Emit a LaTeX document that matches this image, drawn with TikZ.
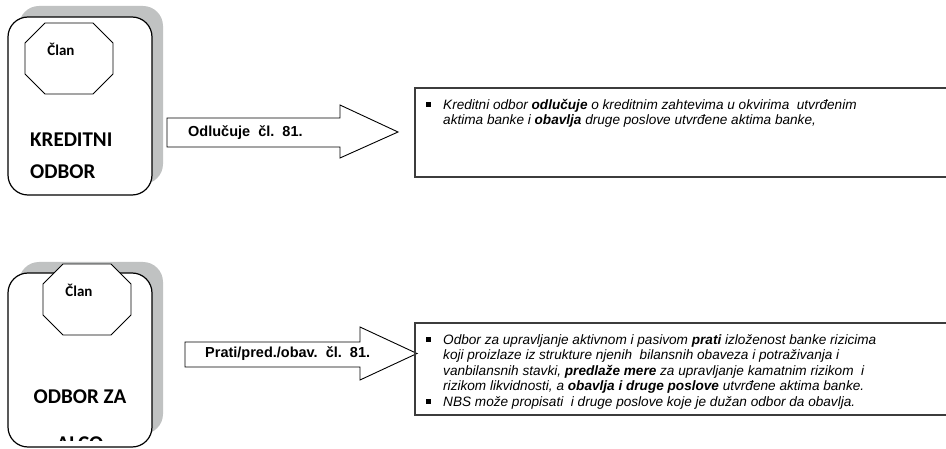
\documentclass[tikz,border=0pt]{standalone}
\usepackage{fontspec}
\setmainfont{Liberation Sans}
\newfontfamily\calibri{Carlito}
\definecolor{shadowgray}{RGB}{192,194,194}
\definecolor{framegray}{RGB}{60,60,60}
\begin{document}
\begin{tikzpicture}[x=1pt,y=-1pt,
  shadowbox/.style={fill=shadowgray, rounded corners=20pt},
  boardbox/.style={draw=black, line width=1.2pt, fill=white, rounded corners=20pt},
  octa/.style={draw=black, line width=0.9pt, fill=white},
  blockarrow/.style={draw=black, line width=0.9pt, fill=white},
  infobox/.style={draw=framegray, line width=1.3pt},
  member/.style={font=\calibri\bfseries\fontsize{15}{18}\selectfont, inner sep=0pt},
  board/.style={font=\calibri\bfseries\fontsize{21}{32}\selectfont, inner sep=0pt},
  arrowlabel/.style={font=\bfseries\fontsize{14.5}{17}\selectfont, inner sep=0pt, anchor=west},
  duties/.style={font=\itshape\fontsize{13.6}{15.5}\selectfont, inner sep=0pt, anchor=north west, align=left},
  bulletmark/.style={fill=black, inner sep=0pt, minimum size=4.5pt}]
\useasboundingbox (0,0) rectangle (946,449);
\clip (0,0) rectangle (946,449);

% ---- Kreditni odbor ----
\fill[shadowbox] (19,6) rectangle (163,184);
\draw[boardbox] (8,17) rectangle (152,195);
\draw[octa] (45,23) -- (93,23) -- (113,43) -- (113,74) -- (93,94) -- (45,94) -- (25,74) -- (25,43) -- cycle;
\node[member] (clan1) at (61,49) {Član};
\node[board, anchor=west] (kred) at (30,140) {KREDITNI};
\node[board, anchor=west] (odb1) at (30,172) {ODBOR};

\draw[blockarrow] (167,118) -- (340,118) -- (340,105) -- (398,132) -- (340,158) -- (340,147) -- (167,147) -- cycle;
\node[arrowlabel] (lab1) at (188,132.5) {Odlučuje\ \ čl.\ \ 81.};

\draw[infobox] (415,88) rectangle (960,177);
\node[bulletmark] (b1) at (428.5,104.5) {};
\node[duties] (txt1) at (443,99) {Kreditni odbor \textbf{odlučuje} o kreditnim zahtevima u okvirima\ \ utvrđenim\\
aktima banke i \textbf{obavlja} druge poslove utvrđene aktima banke,};

% ---- Odbor za ALCO ----
\fill[shadowbox] (19,262) rectangle (163,434);
\draw[boardbox] (8,273) rectangle (152,447);
\begin{scope}
  \clip (8,273) rectangle (152,440);
  \node[board, anchor=base] (alco) at (80,450.5) {ALCO};
\end{scope}
\draw[octa] (63,264) -- (111,264) -- (131,284) -- (131,315) -- (111,335) -- (63,335) -- (43,315) -- (43,284) -- cycle;
\node[member] (clan2) at (79,290) {Član};
\node[board] (odb2) at (80,397) {ODBOR ZA};

\draw[blockarrow] (185,342) -- (360,342) -- (360,327) -- (417,353.5) -- (360,380) -- (360,367) -- (185,367) -- cycle;
\node[arrowlabel] (lab2) at (205,354) {Prati/pred./obav.\ \ čl.\ \ 81.};

\draw[infobox] (415,323) rectangle (960,415);
\node[bulletmark] (b2) at (428.5,339.5) {};
\node[bulletmark] (b3) at (428.5,401.5) {};
\node[duties] (txt2) at (443,334) {Odbor za upravljanje aktivnom i pasivom \textbf{prati} izloženost banke rizicima\\
koji proizlaze iz strukture njenih\ \ bilansnih obaveza i potraživanja i\\
vanbilansnih stavki, \textbf{predlaže mere} za upravljanje kamatnim rizikom\ \ i\\
rizikom likvidnosti, a \textbf{obavlja i druge poslove} utvrđene aktima banke.\\
NBS može propisati\ \ i druge poslove koje je dužan odbor da obavlja.};
\end{tikzpicture}
\end{document}
